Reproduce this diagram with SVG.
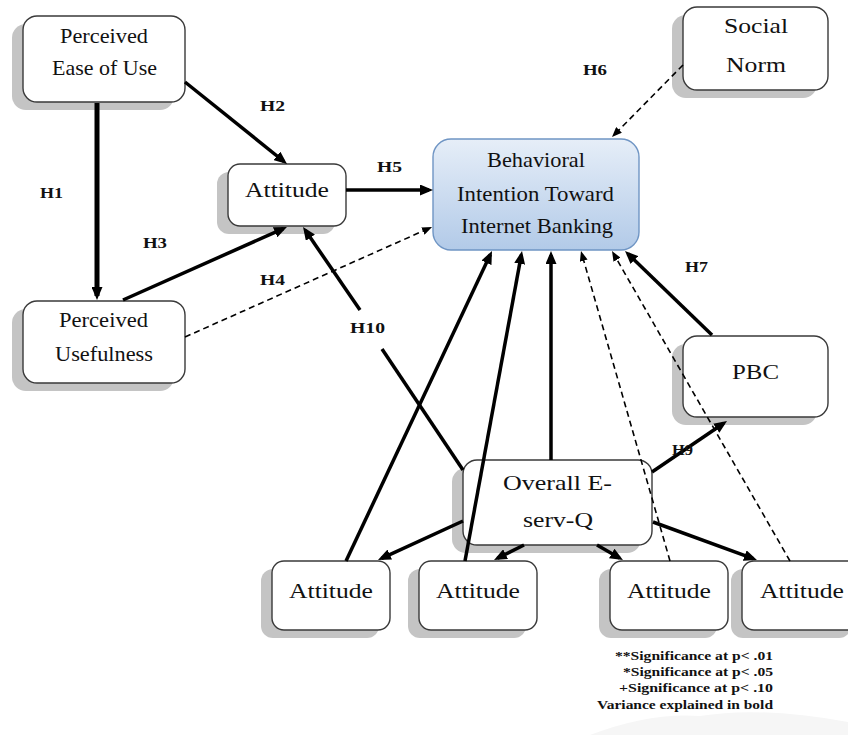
<svg xmlns="http://www.w3.org/2000/svg" width="848" height="735" viewBox="0 0 848 735" font-family="Liberation Serif, DejaVu Serif, serif">
<style>
.sh{fill:#c4c4c4}
.bx{fill:#fff;stroke:#3a3a3a;stroke-width:1.4}
.t{font-size:21px;fill:#111}
.tb{font-size:22px;fill:#111}
.h{font-size:15px;font-weight:bold;fill:#111}
.lg{font-size:13px;font-weight:bold;fill:#111}
.s{fill:none;stroke:#000;stroke-width:3.5;marker-end:url(#a)}
.d{fill:none;stroke:#000;stroke-width:1.6;stroke-dasharray:6 4;marker-end:url(#b)}
</style>
<defs>
<marker id="a" markerWidth="13" markerHeight="11" refX="9" refY="5.5" orient="auto" markerUnits="userSpaceOnUse"><path d="M0,0 L13,5.5 L0,11 z" fill="#000"/></marker>
<marker id="b" markerWidth="10" markerHeight="8" refX="7" refY="4" orient="auto" markerUnits="userSpaceOnUse"><path d="M0,0 L10,4 L0,8 z" fill="#000"/></marker>
<linearGradient id="g" x1="0" y1="0" x2="0" y2="1"><stop offset="0" stop-color="#e6eef8"/><stop offset="1" stop-color="#b2cae8"/></linearGradient>
</defs>
<path d="M590,735 Q650,712 700,716 Q760,706 848,722 L848,735 Z" fill="#f6f6f6"/>
<g id="peou"><rect class="sh" x="12" y="24" width="162" height="86" rx="14"/><rect class="bx" x="23" y="16" width="162" height="86" rx="14"/><text class="t" x="60" y="43" textLength="88" lengthAdjust="spacingAndGlyphs">Perceived</text><text class="t" x="52" y="75" textLength="105" lengthAdjust="spacingAndGlyphs">Ease of Use</text></g>
<g id="social"><rect class="sh" x="672" y="15" width="145" height="83" rx="14"/><rect class="bx" x="683" y="7" width="145" height="83" rx="14"/><text class="tb" x="724" y="33" textLength="64" lengthAdjust="spacingAndGlyphs">Social</text><text class="tb" x="726" y="72" textLength="60" lengthAdjust="spacingAndGlyphs">Norm</text></g>
<g id="bi"><rect x="433" y="139" width="206" height="111" rx="18" fill="url(#g)" stroke="#6f95c4" stroke-width="1.4"/><text class="t" x="487" y="167" textLength="98" lengthAdjust="spacingAndGlyphs">Behavioral</text><text class="t" x="457" y="201" textLength="157" lengthAdjust="spacingAndGlyphs">Intention Toward</text><text class="t" x="461" y="233" textLength="152" lengthAdjust="spacingAndGlyphs">Internet Banking</text></g>
<g id="att"><rect class="sh" x="217" y="172" width="118" height="62" rx="12"/><rect class="bx" x="228" y="164" width="118" height="62" rx="12"/><text class="t" x="245" y="197" textLength="84" lengthAdjust="spacingAndGlyphs">Attitude</text></g>
<g id="pu"><rect class="sh" x="12" y="309" width="162" height="82" rx="14"/><rect class="bx" x="23" y="301" width="162" height="82" rx="14"/><text class="t" x="59" y="327" textLength="89" lengthAdjust="spacingAndGlyphs">Perceived</text><text class="t" x="55" y="361" textLength="98" lengthAdjust="spacingAndGlyphs">Usefulness</text></g>
<g id="pbc"><rect class="sh" x="672" y="344" width="145" height="81" rx="14"/><rect class="bx" x="683" y="336" width="145" height="81" rx="14"/><text class="tb" x="732" y="379" textLength="47" lengthAdjust="spacingAndGlyphs">PBC</text></g>
<g id="overall"><rect class="sh" x="452" y="468" width="189" height="85" rx="14"/><rect class="bx" x="463" y="460" width="189" height="85" rx="14"/><text class="tb" x="503" y="490" textLength="109" lengthAdjust="spacingAndGlyphs">Overall E-</text><text class="tb" x="523" y="527" textLength="70" lengthAdjust="spacingAndGlyphs">serv-Q</text></g>
<g id="att1"><rect class="sh" x="261" y="569" width="118" height="69" rx="12"/><rect class="bx" x="272" y="561" width="118" height="69" rx="12"/><text class="tb" x="289" y="598" textLength="84" lengthAdjust="spacingAndGlyphs">Attitude</text></g>
<g id="att2"><rect class="sh" x="408" y="569" width="118" height="69" rx="12"/><rect class="bx" x="419" y="561" width="118" height="69" rx="12"/><text class="tb" x="436" y="598" textLength="84" lengthAdjust="spacingAndGlyphs">Attitude</text></g>
<g id="att3"><rect class="sh" x="599" y="569" width="118" height="69" rx="12"/><rect class="bx" x="610" y="561" width="118" height="69" rx="12"/><text class="tb" x="627" y="598" textLength="84" lengthAdjust="spacingAndGlyphs">Attitude</text></g>
<g id="att4"><rect class="sh" x="731" y="569" width="120" height="69" rx="12"/><rect class="bx" x="742" y="561" width="120" height="69" rx="12"/><text class="tb" x="760" y="598" textLength="84" lengthAdjust="spacingAndGlyphs">Attitude</text></g>
<g id="connectors">
<path class="s" style="stroke-width:5" d="M97,103 L97,296"/>
<path class="s" d="M185,82 L283.9,161.5"/>
<path class="s" d="M123,300 L283.3,228.6"/>
<path class="d" d="M185,337 L429.3,228.2"/>
<path class="s" d="M346,190 L429,190"/>
<path class="d" d="M683,65 L614.1,134.9"/>
<path class="s" d="M712,335 L627.9,253.8"/>
<path class="s" d="M652,472 L723.7,423.2"/>
<path fill="none" stroke="#000" stroke-width="3.5" d="M463,470 L382,349"/>
<path class="s" d="M360,310 L305.3,230.3"/>
<path class="s" d="M346,561 L490.3,254.6"/>
<path class="s" d="M465,561 L521.3,254.9"/>
<path class="s" d="M551,460 L551,255"/>
<path class="d" d="M670,561 L581.8,253.9"/>
<path class="d" d="M790,561 L613.5,253.6"/>
<path class="s" d="M463,521 L381.6,558.3"/>
<path class="s" d="M524,545 L497.6,558.2"/>
<path class="s" d="M597,545 L619.5,558"/>
<path class="s" d="M653,522 L753.2,558.6"/>
</g>
<g id="labels">
<text class="h" x="40" y="198" textLength="23" lengthAdjust="spacingAndGlyphs">H1</text>
<text class="h" x="260" y="111" textLength="25" lengthAdjust="spacingAndGlyphs">H2</text>
<text class="h" x="143" y="248" textLength="24" lengthAdjust="spacingAndGlyphs">H3</text>
<text class="h" x="260" y="285" textLength="25" lengthAdjust="spacingAndGlyphs">H4</text>
<text class="h" x="377" y="172" textLength="25" lengthAdjust="spacingAndGlyphs">H5</text>
<text class="h" x="583" y="75" textLength="24" lengthAdjust="spacingAndGlyphs">H6</text>
<text class="h" x="685" y="272" textLength="23" lengthAdjust="spacingAndGlyphs">H7</text>
<text class="h" x="672" y="455" textLength="21" lengthAdjust="spacingAndGlyphs">H9</text>
<text class="h" x="350" y="333" textLength="35" lengthAdjust="spacingAndGlyphs">H10</text>
</g>
<g id="legend">
<text class="lg" x="615" y="660" textLength="158" lengthAdjust="spacingAndGlyphs">**Significance at p&lt; .01</text>
<text class="lg" x="623" y="676" textLength="150" lengthAdjust="spacingAndGlyphs">*Significance at p&lt; .05</text>
<text class="lg" x="619" y="692" textLength="154" lengthAdjust="spacingAndGlyphs">+Significance at p&lt; .10</text>
<text class="lg" x="597" y="709" textLength="176" lengthAdjust="spacingAndGlyphs">Variance explained in bold</text>
</g>
</svg>
